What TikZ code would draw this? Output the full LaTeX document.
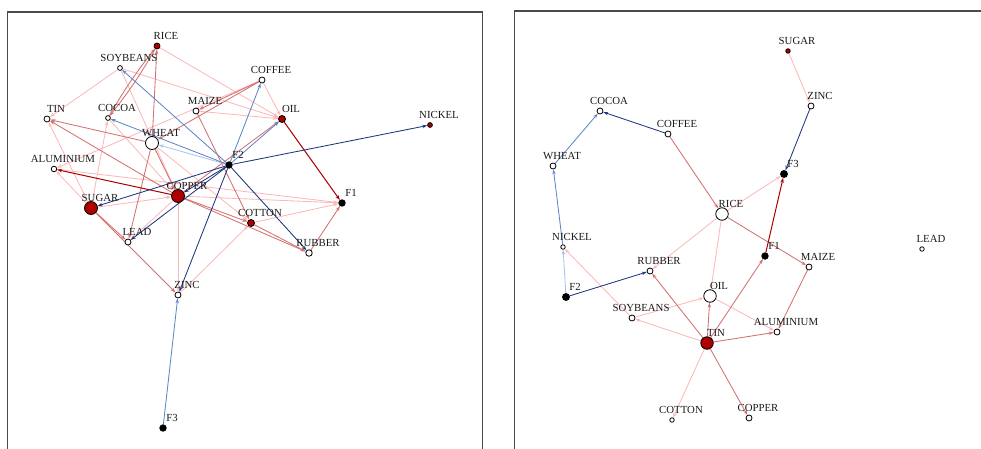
\documentclass[tikz,border=0pt]{standalone}
\usepackage{fontspec}
\setmainfont{Liberation Serif}
\usetikzlibrary{arrows.meta,backgrounds}
\definecolor{rdark}{RGB}{170,0,0}
\definecolor{rmed}{RGB}{212,112,112}
\definecolor{rlight}{RGB}{252,185,185}
\definecolor{bdark}{RGB}{30,55,125}
\definecolor{bmed}{RGB}{95,135,200}
\definecolor{blight}{RGB}{170,196,232}
\definecolor{nodered}{RGB}{175,0,0}
\definecolor{framegray}{RGB}{75,75,75}
\tikzset{
 x=1pt,y=-1pt,
 vw/.style={circle,draw=black,line width=0.8pt,fill=white,inner sep=0pt,minimum size=#1},
 vr/.style={vw=#1,fill=nodered},
 vb/.style={vw=#1,fill=black},
 lbl/.style={font=\fontsize{10.8}{12}\selectfont,inner sep=0pt,text=black!90},
 ed/.style={line width=0.85pt,-{Stealth[length=5pt,width=3.4pt]}},
 dr/.style={ed,draw=rdark,line width=1pt},
 mr/.style={ed,draw=rmed},
 lr/.style={ed,draw=rlight},
 db/.style={ed,draw=bdark},
 mb/.style={ed,draw=bmed},
 lb/.style={ed,draw=blight},
 framebox/.style={draw=framegray,line width=1.2pt},
}
\newcommand{\gn}[5]{\node[#4] (#1) at (#2,#3) {}; \node[lbl] (#1-t) at (#2+9,#3-10) {#5};}
\begin{document}
\begin{tikzpicture}
\useasboundingbox (0,0) rectangle (981,449);
% ---------- left panel nodes
\gn{a-RICE}{157}{46}{vr=6pt}{RICE}
\gn{a-SOY}{120}{68}{vw=4.8pt}{SOYBEANS}
\gn{a-TIN}{47}{119}{vw=6pt}{TIN}
\gn{a-COCOA}{108}{118}{vw=4.8pt}{COCOA}
\gn{a-MAIZE}{196}{111}{vw=6pt}{MAIZE}
\gn{a-COFFEE}{262}{80}{vw=6pt}{COFFEE}
\gn{a-OIL}{282}{119}{vr=7pt}{OIL}
\gn{a-NICKEL}{430}{125}{vr=4.8pt}{NICKEL}
\gn{a-WHEAT}{152}{143}{vw=13pt}{WHEAT}
\gn{a-F2}{229}{165}{vb=6.5pt}{F2}
\gn{a-ALU}{54}{169}{vw=5.5pt}{ALUMINIUM}
\gn{a-COPPER}{178}{196}{vr=13pt}{COPPER}
\gn{a-SUGAR}{91}{208}{vr=13pt}{SUGAR}
\gn{a-F1}{342}{203}{vb=6.5pt}{F1}
\gn{a-COTTON}{251}{223}{vr=7pt}{COTTON}
\gn{a-LEAD}{128}{242}{vw=6pt}{LEAD}
\gn{a-RUBBER}{309}{253}{vw=6.5pt}{RUBBER}
\gn{a-ZINC}{178}{295}{vw=6pt}{ZINC}
\gn{a-F3}{163}{428}{vb=6.5pt}{F3}
% ---------- right panel nodes
\gn{b-SUGAR}{788}{51}{vr=4.5pt}{SUGAR}
\gn{b-ZINC}{811}{106}{vw=6pt}{ZINC}
\gn{b-COCOA}{600}{111}{vw=6pt}{COCOA}
\gn{b-COFFEE}{668}{134}{vw=6pt}{COFFEE}
\gn{b-WHEAT}{553}{166}{vw=6pt}{WHEAT}
\gn{b-F3}{784}{174}{vb=7pt}{F3}
\gn{b-RICE}{722}{214}{vw=12.5pt}{RICE}
\gn{b-NICKEL}{563}{247}{vw=4.5pt}{NICKEL}
\gn{b-LEAD}{922}{249}{vw=4.5pt}{LEAD}
\gn{b-F1}{765}{256}{vb=6.5pt}{F1}
\gn{b-MAIZE}{809}{267}{vw=6pt}{MAIZE}
\gn{b-RUBBER}{650}{271}{vw=6pt}{RUBBER}
\gn{b-F2}{566}{297}{vb=7pt}{F2}
\gn{b-OIL}{710}{296}{vw=12.5pt}{OIL}
\gn{b-SOY}{632}{318}{vw=6pt}{SOYBEANS}
\gn{b-ALU}{777}{332}{vw=6pt}{ALUMINIUM}
\gn{b-TIN}{707}{343}{vr=12.5pt}{TIN}
\gn{b-COTTON}{672}{420}{vw=4.5pt}{COTTON}
\gn{b-COPPER}{749}{418}{vw=6pt}{COPPER}
\begin{pgfonlayer}{background}
\draw[framebox] (7.5,12) rectangle (482.5,455);
\draw[framebox] (514.5,11) rectangle (990,455);
% ---------- left panel edges: light red
\draw[lr] (a-COFFEE) -- (a-OIL);
\draw[lr] (a-RICE) -- (a-OIL);
\draw[lr] (a-MAIZE) -- (a-OIL);
\draw[lr] (a-SOY) -- (a-OIL);
\draw[lr] (a-COFFEE) -- (a-ALU);
\draw[lr] (a-COPPER) -- (a-LEAD);
\draw[lr] (a-COPPER) -- (a-ZINC);
\draw[lr] (a-ZINC) -- (a-COTTON);
\draw[lr] (a-COTTON) -- (a-F1);
\draw[lr] (a-COPPER) -- (a-F1);
\draw[lr] (a-ALU) -- (a-F1);
\draw[lr] (a-SUGAR) -- (a-COPPER);
\draw[lr] (a-SUGAR) -- (a-TIN);
\draw[lr] (a-SUGAR) -- (a-ALU);
\draw[lr] (a-SUGAR) -- (a-COCOA);
\draw[lr] (a-SOY) -- (a-TIN);
\draw[lr] (a-SOY) -- (a-COPPER);
\draw[lr] (a-WHEAT) -- (a-COTTON);
\draw[lr] (a-COCOA) -- (a-COPPER);
% medium red
\draw[mr] (a-WHEAT) -- (a-TIN);
\draw[mr] (a-COPPER) -- (a-OIL);
\draw[mr] (a-COFFEE) -- (a-MAIZE);
\draw[mr] (a-COFFEE) -- (a-WHEAT);
\draw[mr] (a-WHEAT) -- (a-RICE);
\draw[mr] (a-COCOA) to[bend left=4] (a-RICE);
\draw[mr] (a-RICE) to[bend left=4] (a-COCOA);
\draw[mr] (a-WHEAT) -- (a-LEAD);
\draw[mr] (a-SUGAR) -- (a-LEAD);
\draw[mr] (a-SUGAR) -- (a-ZINC);
\draw[mr] (a-COPPER) -- (a-COTTON);
\draw[mr] (a-COPPER) -- (a-RUBBER);
\draw[mr] (a-COTTON) -- (a-RUBBER);
\draw[mr] (a-RUBBER) -- (a-F1);
\draw[mr] (a-MAIZE) -- (a-COTTON);
\draw[mr] (a-WHEAT) -- (a-COPPER);
\draw[mr] (a-COPPER) -- (a-TIN);
% dark red
\draw[dr] (a-OIL) -- (a-F1);
\draw[dr] (a-COPPER) -- (a-ALU);
% blue
\draw[lb] (a-F2) -- (a-WHEAT);
\draw[mb] (a-F2) -- (a-COFFEE);
\draw[mb] (a-F2) -- (a-OIL);
\draw[mb] (a-F2) -- (a-COCOA);
\draw[mb] (a-F2) -- (a-SOY);
\draw[mb] (a-F3) -- (a-ZINC);
\draw[db] (a-F2) -- (a-NICKEL);
\draw[db] (a-F2) -- (a-COPPER);
\draw[db] (a-F2) -- (a-SUGAR);
\draw[db] (a-F2) -- (a-LEAD);
\draw[db] (a-F2) -- (a-ZINC);
\draw[db] (a-F2) -- (a-RUBBER);
% ---------- right panel edges
\draw[lr] (b-SUGAR) -- (b-ZINC);
\draw[lr] (b-RICE) -- (b-F3);
\draw[lr] (b-OIL) -- (b-ALU);
\draw[lr] (b-TIN) -- (b-SOY);
\draw[lr] (b-SOY) -- (b-OIL);
\draw[lr] (b-TIN) -- (b-COTTON);
\draw[lr] (b-RICE) -- (b-RUBBER);
\draw[lr] (b-RICE) -- (b-OIL);
\draw[lr] (b-SOY) -- (b-NICKEL);
\draw[mr] (b-COFFEE) -- (b-RICE);
\draw[mr] (b-TIN) -- (b-F1);
\draw[mr] (b-RICE) -- (b-MAIZE);
\draw[mr] (b-MAIZE) -- (b-ALU);
\draw[mr] (b-TIN) -- (b-ALU);
\draw[mr] (b-TIN) -- (b-OIL);
\draw[mr] (b-TIN) -- (b-RUBBER);
\draw[mr] (b-TIN) -- (b-COPPER);
\draw[dr] (b-F1) -- (b-F3);
\draw[db] (b-COFFEE) -- (b-COCOA);
\draw[mb] (b-WHEAT) -- (b-COCOA);
\draw[mb] (b-NICKEL) -- (b-WHEAT);
\draw[lb] (b-F2) -- (b-NICKEL);
\draw[db] (b-F2) -- (b-RUBBER);
\draw[db] (b-ZINC) -- (b-F3);
\end{pgfonlayer}
\end{tikzpicture}
\end{document}
